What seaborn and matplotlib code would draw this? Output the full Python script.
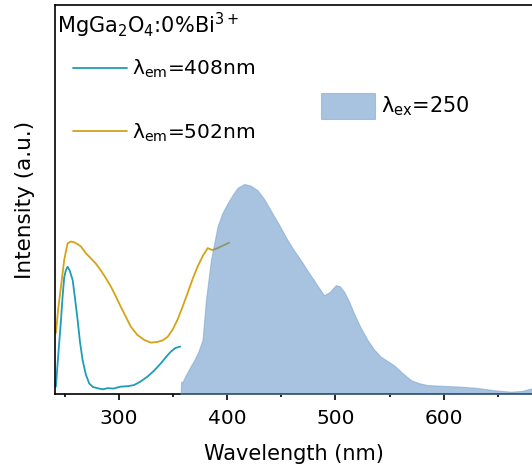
import numpy as np
import pandas as pd
import matplotlib
matplotlib.use("Agg")
import matplotlib.pyplot as plt
import seaborn as sns
from matplotlib.patches import Patch
from matplotlib.lines import Line2D

# Excitation spectrum monitored at 408 nm
ex408_wl = [241.8, 244.0, 246.5, 248.0, 249.5, 251.0, 252.6, 254.5, 257.3, 259.5, 261.9,
            264.0, 266.5, 269.5, 272.6, 276.0, 280.3, 285.0, 289.6, 295.0, 301.8, 308.0,
            314.0, 320.0, 326.5, 332.5, 338.8, 343.5, 348.0, 352.0, 356.6]
ex408_int = [0.019, 0.10, 0.19, 0.25, 0.30, 0.318, 0.327, 0.318, 0.293, 0.245, 0.19,
             0.135, 0.087, 0.050, 0.027, 0.018, 0.015, 0.012, 0.015, 0.014, 0.019, 0.020,
             0.023, 0.032, 0.045, 0.060, 0.079, 0.095, 0.109, 0.118, 0.122]

# Excitation spectrum monitored at 502 nm
ex502_wl = [241.8, 244.0, 246.5, 249.5, 252.6, 255.5, 258.7, 262.0, 265.0, 269.5, 274.0,
            278.5, 283.0, 287.5, 292.6, 297.0, 301.8, 306.5, 311.0, 317.0, 323.4, 329.5,
            335.7, 340.5, 345.0, 349.5, 354.0, 358.5, 363.4, 368.0, 372.6, 377.5, 382.0,
            386.5, 391.0, 396.5, 401.8]
ex502_int = [0.157, 0.22, 0.276, 0.345, 0.387, 0.392, 0.39, 0.385, 0.379, 0.362, 0.349,
             0.336, 0.319, 0.300, 0.276, 0.252, 0.224, 0.198, 0.173, 0.152, 0.139, 0.132,
             0.134, 0.138, 0.147, 0.165, 0.19, 0.222, 0.259, 0.295, 0.327, 0.355, 0.375,
             0.370, 0.375, 0.382, 0.389]

# Emission spectrum under 250 nm excitation
em250_wl = [357.0, 357.5, 358.6, 362.0, 366.0, 369.5, 373.5, 377.2, 380.3, 385.0, 391.0,
            395.5, 400.3, 405.0, 409.5, 415.7, 421.5, 428.0, 434.0, 440.0, 448.0, 455.7,
            462.0, 468.0, 474.0, 480.0, 485.0, 489.5, 494.5, 500.3, 504.0, 508.0, 512.5,
            517.0, 523.0, 529.6, 535.5, 541.8, 548.0, 554.0, 561.5, 569.5, 577.0, 585.0,
            600.0, 615.7, 630.0, 646.0, 662.0, 672.0, 682.0]
em250_int = [0.0, 0.032, 0.030, 0.05, 0.07, 0.087, 0.11, 0.139, 0.24, 0.345, 0.43,
             0.465, 0.49, 0.512, 0.53, 0.54, 0.536, 0.524, 0.502, 0.473, 0.435, 0.396,
             0.368, 0.344, 0.318, 0.293, 0.272, 0.254, 0.262, 0.28, 0.277, 0.263, 0.238,
             0.208, 0.172, 0.139, 0.115, 0.096, 0.085, 0.074, 0.055, 0.036, 0.028, 0.023,
             0.021, 0.019, 0.016, 0.010, 0.006, 0.008, 0.015]

xticks_major = [300, 400, 500, 600]
xticks_minor = [250, 350, 450, 550, 650]

label_408 = "λ$_{\\mathrm{em}}$=408nm"
label_502 = "λ$_{\\mathrm{em}}$=502nm"
label_250 = "λ$_{\\mathrm{ex}}$=250"
sample = "MgGa$_2$O$_4$:0%Bi$^{3+}$"

c408 = "#1E9CB8"
c502 = "#D4A316"
fill_c = "#5389C1"
edge_c = "#6F9CCB"

sns.set_theme(style="ticks")
plt.rcParams["font.family"] = ["DejaVu Sans"]
plt.rcParams["mathtext.fontset"] = "dejavusans"
plt.rcParams["text.color"] = "black"
plt.rcParams["axes.labelcolor"] = "black"

fig = plt.figure(figsize=(5.32, 4.73), dpi=100)
ax = fig.add_axes([0.1034, 0.167, 0.8966, 0.8224])

df408 = pd.DataFrame({"wl": ex408_wl, "I": ex408_int})
df502 = pd.DataFrame({"wl": ex502_wl, "I": ex502_int})
sns.lineplot(data=df408, x="wl", y="I", color=c408, lw=1.3, ax=ax, zorder=2)
sns.lineplot(data=df502, x="wl", y="I", color=c502, lw=1.3, ax=ax, zorder=2)
ax.fill_between(em250_wl, 0, em250_int, facecolor=fill_c, alpha=0.5,
                edgecolor=edge_c, lw=0.8, zorder=3)

ax.set_xlim(241, 681.5)
ax.set_ylim(0, 1)
ax.set_xticks(xticks_major)
ax.set_xticks(xticks_minor, minor=True)
ax.set_yticks([])
ax.tick_params(axis="x", which="major", direction="out", length=4, width=1.2,
               labelsize=14.5, pad=7, color="black", labelcolor="black")
ax.tick_params(axis="x", which="minor", direction="out", length=2.5, width=1.2,
               color="black")
for side in ["left", "bottom", "top"]:
    ax.spines[side].set_color("black")
    ax.spines[side].set_linewidth(1.2)
ax.spines["right"].set_visible(False)

ax.set_xlabel("Wavelength (nm)", fontsize=15, labelpad=11)
ax.set_ylabel("Intensity (a.u.)", fontsize=15.5, labelpad=14.5)

ax.text(0.004, 0.985, sample, transform=ax.transAxes, ha="left", va="top",
        fontsize=15)

line_handles = [Line2D([], [], color=c408, lw=1.3), Line2D([], [], color=c502, lw=1.3)]
leg1 = ax.legend(line_handles, [label_408, label_502], loc="upper left",
                 bbox_to_anchor=(0.02, 0.885), frameon=False, fontsize=14.5,
                 handlelength=2.7, handletextpad=0.25, labelspacing=2.05,
                 borderaxespad=0, labelcolor="black")
ax.add_artist(leg1)
patch = Patch(facecolor=fill_c, alpha=0.5, edgecolor=edge_c, lw=0.8)
ax.legend([patch], [label_250], loc="upper left", bbox_to_anchor=(0.54, 0.795),
          frameon=False, fontsize=15, handlelength=2.6, handleheight=1.5,
          handletextpad=0.3, borderaxespad=0, labelcolor="black")

fig.savefig("out.png", dpi=100)
